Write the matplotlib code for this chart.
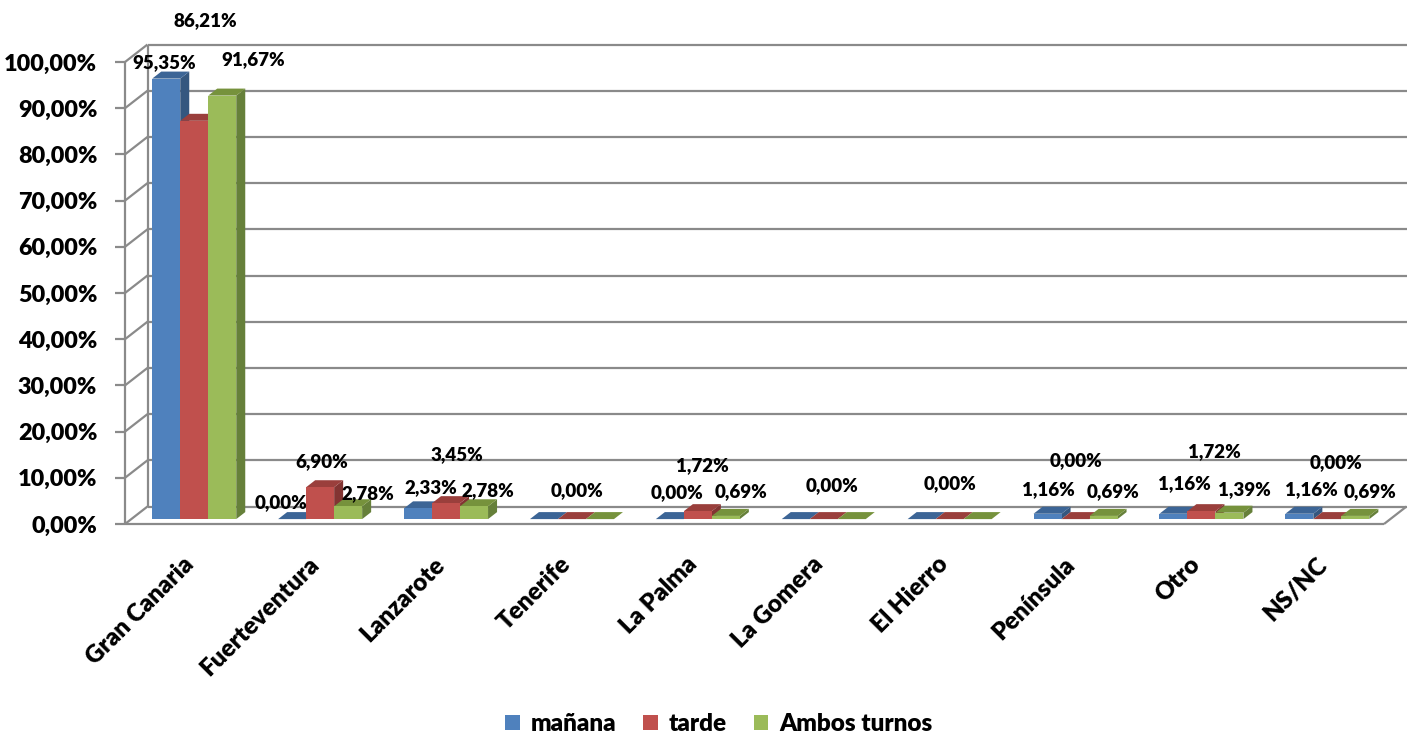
import numpy as np
import matplotlib
matplotlib.use('Agg')
import matplotlib.pyplot as plt
import matplotlib.transforms as mtransforms
from matplotlib.patches import Polygon, Patch

plt.rcParams['font.family'] = ['Lato', 'DejaVu Sans']
WT = 'heavy'

# data
categories = ['Gran Canaria', 'Fuerteventura', 'Lanzarote', 'Tenerife', 'La Palma',
              'La Gomera', 'El Hierro', 'Península', 'Otro', 'NS/NC']
series = ['mañana', 'tarde', 'Ambos turnos']
manana = [95.35, 0.00, 2.33, 0.00, 0.00, 0.00, 0.00, 1.16, 1.16, 1.16]
tarde = [86.21, 6.90, 3.45, 0.00, 1.72, 0.00, 0.00, 0.00, 1.72, 0.00]
ambos = [91.67, 2.78, 2.78, 0.00, 0.69, 0.00, 0.00, 0.69, 1.39, 0.69]
values = [manana, tarde, ambos]

# label nudges in pixels from the bar top (None = label not shown)
lab_dx = [[-2, -11, 13, None, 7, None, None, 1, 11, 12],
          [11, 2, 11, 5, 5, 8, 0, 0, 13, 9],
          [31, 20, 14, None, 15, None, None, 9, 15, 15]]
lab_dy = [[16, 17, 21, None, 27, None, None, 24, 30, 24],
          [100, 26, 49, 29, 46, 34, 36, 59, 60, 57],
          [36, 13, 16, None, 24, None, None, 24, 23, 24]]

front_cols = ['#4F81BD', '#C0504D', '#9BBB59']
top_cols = ['#3C6596', '#9A3F3C', '#76923C']
side_cols = ['#35577F', '#823432', '#66803A']
grid_col = '#8A8A8A'

W, H = 1416, 735
fig = plt.figure(figsize=(W / 100, H / 100), dpi=100)
ax_l, ax_r, ax_b, ax_t = 125, 1384, 524, 62
ax = fig.add_axes([ax_l / W, (H - ax_b) / H, (ax_r - ax_l) / W, (ax_b - ax_t) / H])
n = len(categories)
ax.set_xlim(0, n)
ax.set_ylim(0, 1)
for s in ax.spines.values():
    s.set_visible(False)

# depth of the 3d box converted to data units
ddx = 22.5 / (ax_r - ax_l) * n
ddy = 17.5 / (ax_b - ax_t)


def pt(x, y, d):
    return (x + d * ddx, y + d * ddy)


# walls and gridlines
gk = dict(color=grid_col, lw=1.6, clip_on=False, zorder=1, solid_capstyle='butt')
for t in np.arange(0, 1.01, 0.1):
    ax.plot([ddx, n + ddx], [t + ddy, t + ddy], **gk)
    ax.plot([0, ddx], [t, t + ddy], **gk)
ax.plot([ddx, ddx], [ddy, 1 + ddy], **gk)
ax.plot([0, 0], [0, 1], **gk)
ax.plot([0, n], [0, 0], **gk)
ax.plot([n, n + ddx], [0, ddy], **gk)

# bars
bw = 0.2224
d0, d1 = 0.28, 0.68
for i in range(n):
    for j in range(3):
        v = values[j][i] / 100
        x0 = i + 0.5 - 1.5 * bw + j * bw
        x1 = x0 + bw
        side = [pt(x1, 0, d0), pt(x1, 0, d1), pt(x1, v, d1), pt(x1, v, d0)]
        top = [pt(x0, v, d0), pt(x1, v, d0), pt(x1, v, d1), pt(x0, v, d1)]
        front = [pt(x0, 0, d0), pt(x1, 0, d0), pt(x1, v, d0), pt(x0, v, d0)]
        for poly, c in [(side, side_cols[j]), (top, top_cols[j]), (front, front_cols[j])]:
            ax.add_patch(Polygon(poly, closed=True, facecolor=c, edgecolor='none',
                                 clip_on=False, zorder=3))
        if lab_dx[j][i] is not None:
            txt = f"{values[j][i]:.2f}%".replace('.', ',')
            ax.annotate(txt, xy=pt((x0 + x1) / 2, v, d0), xytext=(lab_dx[j][i], lab_dy[j][i]),
                        textcoords='offset pixels', ha='center', va='center',
                        fontsize=13.5, fontweight=WT, zorder=5, annotation_clip=False)

# axes ticks
yt = np.arange(0, 1.01, 0.1)
ax.set_yticks(yt)
ax.set_yticklabels([f"{t * 100:.2f}%".replace('.', ',') for t in yt], fontsize=16.8, fontweight=WT)
ax.tick_params(axis='y', length=7, width=1.6, color=grid_col, pad=13)
ax.set_xticks(np.arange(n) + 0.5)
ax.set_xticklabels(categories, rotation=45, ha='right', rotation_mode='anchor',
                   fontsize=17.5, fontweight=WT)
ax.tick_params(axis='x', length=0, pad=21)
shift = mtransforms.ScaledTranslation(-6 / 100, 0, fig.dpi_scale_trans)
for lab in ax.get_xticklabels():
    lab.set_transform(lab.get_transform() + shift)

handles = [Patch(facecolor=c, edgecolor='none') for c in front_cols]
fig.legend(handles, series, loc='center', bbox_to_anchor=(719 / W, 11 / H), ncol=3,
           frameon=False, prop={'size': 17.5, 'weight': WT}, handlelength=0.6,
           handleheight=0.6, handletextpad=0.45, columnspacing=1.1)

fig.savefig('out.png', dpi=100)
